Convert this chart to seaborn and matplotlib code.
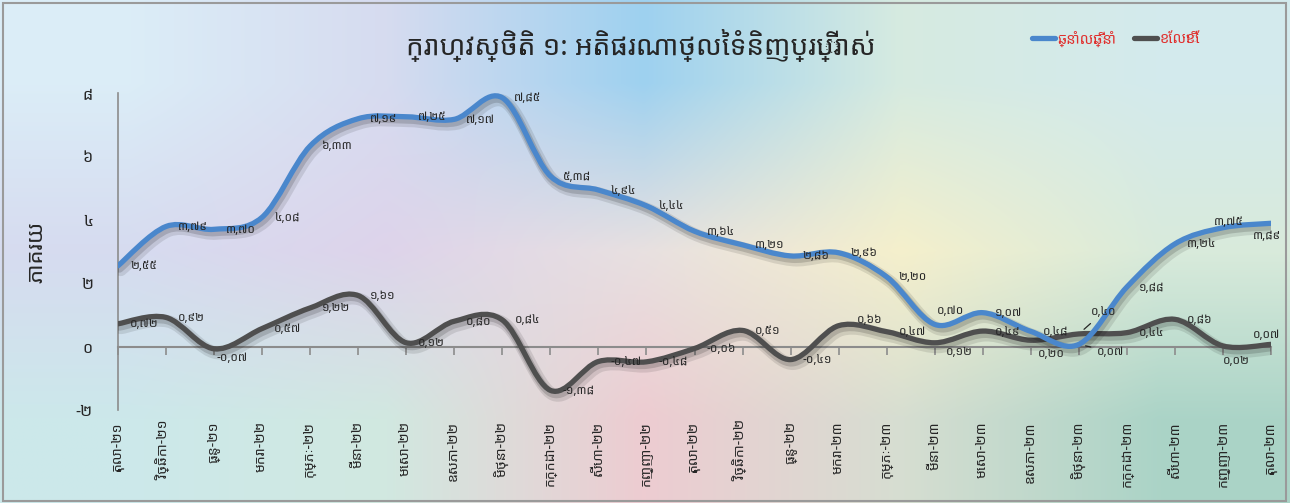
import matplotlib
matplotlib.use("Agg")
import matplotlib.pyplot as plt
import matplotlib.patheffects as pe
from matplotlib import font_manager
from matplotlib.lines import Line2D
from matplotlib.path import Path
from matplotlib.patches import PathPatch, Rectangle
import numpy as np
import pandas as pd
import seaborn as sns


# ---- data ----
months = [
    "តុលា-២១", "វិច្ឆិកា-២១", "ធ្នូ-២១", "មករា-២២", "កុម្ភៈ-២២", "មីនា-២២",
    "មេសា-២២", "ឧសភា-២២", "មិថុនា-២២", "កក្កដា-២២", "សីហា-២២", "កញ្ញា-២២",
    "តុលា-២២", "វិច្ឆិកា-២២", "ធ្នូ-២២", "មករា-២៣", "កុម្ភៈ-២៣", "មីនា-២៣",
    "មេសា-២៣", "ឧសភា-២៣", "មិថុនា-២៣", "កក្កដា-២៣", "សីហា-២៣", "កញ្ញា-២៣",
    "តុលា-២៣",
]
yoy = [2.55, 3.79, 3.70, 4.08, 6.33, 7.19, 7.25, 7.17, 7.85, 5.38, 4.94, 4.44,
       3.64, 3.21, 2.86, 2.96, 2.20, 0.70, 1.07, 0.48, 0.07, 1.88, 3.24, 3.75,
       3.89]
mom = [0.72, 0.92, -0.07, 0.57, 1.22, 1.61, 0.12, 0.80, 0.84, -1.38, -0.47,
       -0.48, -0.06, 0.51, -0.41, 0.66, 0.47, 0.12, 0.49, 0.20, 0.40, 0.44,
       0.86, 0.02, 0.07]
y_ticks = [-2, 0, 2, 4, 6, 8]

series_names = ["ឆ្នាំលើឆ្នាំ", "ខែលើខែ"]
title = "ក្រាហ្វស្ថិតិ ១: អតិផរណាថ្លៃទំនិញប្រើប្រាស់"
y_label = "ភាគរយ"

# ---- style ----
BLUE = "#4a87cc"
GRAY = "#4f4f4f"
RED = "#e0302e"
TEXT = "#262626"

sns.set_style("white")
installed = {f.name for f in font_manager.fontManager.ttflist}
khmer_fonts = [f for f in ["Noto Sans Khmer", "Noto Serif Khmer", "Khmer OS",
                           "Khmer OS System", "Hanuman", "Battambang",
                           "Kantumruy"] if f in installed]
plt.rcParams["font.family"] = khmer_fonts + ["DejaVu Sans"]

KH_DIGITS = str.maketrans("0123456789.", "០១២៣៤៥៦៧៨៩,")


def khmer_num(v, fmt="{:.2f}"):
    return fmt.format(v).translate(KH_DIGITS)


def smooth_path(xy):
    # Excel-style smoothed line: Catmull-Rom segments as cubic Beziers
    pts = np.asarray(xy)
    verts = [pts[0]]
    codes = [Path.MOVETO]
    for i in range(len(pts) - 1):
        p0 = pts[i - 1] if i > 0 else pts[i]
        p1 = pts[i]
        p2 = pts[i + 1]
        p3 = pts[i + 2] if i + 2 < len(pts) else pts[i + 1]
        verts += [p1 + (p2 - p0) / 6, p2 - (p3 - p1) / 6, p2]
        codes += [Path.CURVE4] * 3
    return Path(verts, codes)


fig = plt.figure(figsize=(12.9, 5.03), dpi=100)

# soft multi-colour background
bg = fig.add_axes([0, 0, 1, 1], zorder=-10)
bg_colors = np.array([
    [[0.86, 0.93, 0.97], [0.84, 0.86, 0.94], [0.62, 0.82, 0.94], [0.84, 0.92, 0.88], [0.83, 0.92, 0.93]],
    [[0.84, 0.86, 0.94], [0.87, 0.83, 0.92], [0.91, 0.88, 0.88], [0.96, 0.94, 0.80], [0.85, 0.92, 0.86]],
    [[0.80, 0.91, 0.92], [0.82, 0.91, 0.88], [0.93, 0.80, 0.82], [0.84, 0.87, 0.82], [0.67, 0.83, 0.78]],
])
bg.imshow(bg_colors, aspect="auto", interpolation="bilinear", extent=[0, 1, 0, 1])
bg.set_axis_off()
fig.add_artist(Rectangle((0.002, 0.004), 0.995, 0.99, transform=fig.transFigure,
                         fill=False, edgecolor="#9a9a9a", linewidth=1.5))

ax = fig.add_axes([118 / 1290, 1 - 410 / 503, (1271 - 118) / 1290, (410 - 93) / 503])
ax.patch.set_alpha(0)

df = pd.DataFrame({
    "i": list(range(len(months))) * 2,
    "value": yoy + mom,
    "series": [series_names[0]] * len(months) + [series_names[1]] * len(months),
})
sns.lineplot(data=df, x="i", y="value", hue="series",
             palette=[BLUE, GRAY], legend=False, ax=ax)

# swap seaborn's polylines for smoothed curves
shadow = [pe.Stroke(offset=(2, -3), linewidth=9, foreground="k", alpha=0.10),
          pe.Stroke(offset=(1, -2), linewidth=6, foreground="k", alpha=0.15),
          pe.Normal()]
for line, color, z in zip(ax.lines, [BLUE, GRAY], [4, 3]):
    patch = PathPatch(smooth_path(line.get_xydata()), facecolor="none",
                      edgecolor=color, linewidth=3.8, capstyle="round",
                      joinstyle="round", zorder=z)
    patch.set_path_effects(shadow)
    ax.add_patch(patch)
    line.set_visible(False)

# data labels (pixel offsets from the point)
offsets = {
    ("yoy", 17): (2, 14), ("yoy", 20): (18, -7), ("yoy", 23): (-9, 6),
    ("yoy", 24): (-18, -12),
    ("mom", 2): (2, -9), ("mom", 15): (18, 6), ("mom", 17): (11, -9),
    ("mom", 19): (7, -13), ("mom", 20): (12, 22), ("mom", 23): (0, -15),
    ("mom", 24): (-18, 10),
}
leaders = {("yoy", 20), ("mom", 20)}
for key, vals in [("yoy", yoy), ("mom", mom)]:
    for i, v in enumerate(vals):
        dx, dy = offsets.get((key, i), (12, 0))
        arrow = None
        if (key, i) in leaders:
            arrow = dict(arrowstyle="-", color=TEXT, lw=0.9, shrinkA=2, shrinkB=5)
        ax.annotate(khmer_num(v), (i, v), xytext=(dx, dy),
                    textcoords="offset pixels", ha="left", va="center",
                    fontsize=8.5, color=TEXT, zorder=6, arrowprops=arrow)

ax.set_xlim(0, len(months) - 1)
ax.set_ylim(-2, 8)
ax.set_yticks(y_ticks)
ax.set_yticklabels([khmer_num(t, "{:d}") for t in y_ticks])
ax.set_xticks(range(len(months)))
ax.set_xticklabels(months, rotation=90, fontsize=10, color=TEXT)
ax.tick_params(axis="x", length=0, pad=8)
ax.tick_params(axis="y", length=0, pad=18, labelsize=11.5, labelcolor=TEXT)
ax.set_xlabel("")
ax.set_ylabel(y_label, fontsize=16, color=TEXT, labelpad=20)

for side in ["top", "right", "bottom"]:
    ax.spines[side].set_visible(False)
ax.spines["left"].set_color("#8c8c8c")
ax.spines["left"].set_linewidth(1.2)

# category axis crossing at zero
zero_axis = ax.secondary_xaxis(0.2)
zero_axis.set_xticks(range(len(months)))
zero_axis.set_xticklabels([])
zero_axis.tick_params(length=6, width=1.2, color="#8c8c8c", direction="out")
zero_axis.spines["bottom"].set_color("#8c8c8c")
zero_axis.spines["bottom"].set_linewidth(1.5)

fig.text(0.497, 0.91, title, ha="center", va="center", fontsize=20, color=TEXT)

handles = [Line2D([], [], color=BLUE, linewidth=3.8),
           Line2D([], [], color=GRAY, linewidth=3.8)]
fig.legend(handles, series_names, loc="center", bbox_to_anchor=(0.865, 0.922),
           ncol=2, frameon=False, fontsize=10.5, labelcolor=RED,
           handlelength=1.6, handletextpad=0.15, columnspacing=1.2)

fig.savefig("out.png", dpi=100)
